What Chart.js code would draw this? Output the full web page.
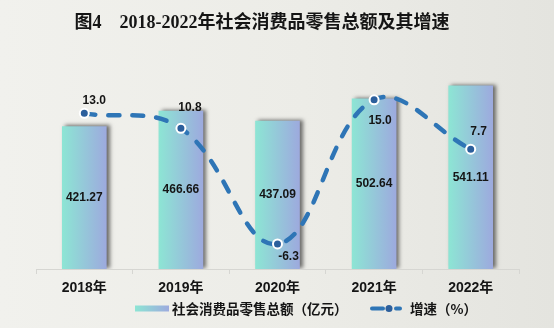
<!DOCTYPE html>
<html>
<head>
<meta charset="utf-8">
<script src="https://cdn.jsdelivr.net/npm/chart.js@4.4.1/dist/chart.umd.min.js"></script>
<style>
  html, body { margin: 0; padding: 0; }
  body {
    width: 554px; height: 328px; overflow: hidden;
    background: linear-gradient(90deg, #f1f1ed 0%, #ececE7 55%, #e4e4df 100%);
  }
  #wrap { position: relative; width: 554px; height: 328px; }
</style>
</head>
<body>
<div id="wrap"><canvas id="c" width="554" height="328"></canvas></div>
<script>
// Retail sales of consumer goods, 2018-2022
const years = ['2018年', '2019年', '2020年', '2021年', '2022年'];
const retailTotal = [421.27, 466.66, 437.09, 502.64, 541.11];   // 亿元
const growthRate = [13.0, 10.8, -6.3, 15.0, 7.7];               // %
const barLegend = '社会消费品零售总额（亿元）';
const lineLegend = '增速（%）';
const titleText = '图4　2018-2022年社会消费品零售总额及其增速';

const BAR_W = 44;
const LINE_BLUE = '#2e75b6';
const POINT_BLUE = '#2c5f9c';
const TEXT = '#151515';

function barGradient(c2d, x0, x1) {
  const g = c2d.createLinearGradient(x0, 0, x1, 0);
  g.addColorStop(0, '#8de5d4');
  g.addColorStop(1, '#9daade');
  return g;
}

// Where each growth label sits relative to its point
const rateLabelOffset = [[10, -13], [9, -21], [11, 13], [6, 21], [8, -18]];

const decorations = {
  id: 'decorations',
  beforeDatasetDraw(chart, args) {
    if (args.meta.type === 'bar') {
      const c = chart.ctx;
      c.save();
      c.shadowColor = 'rgba(0,0,0,0.55)';
      c.shadowBlur = 4;
      c.shadowOffsetX = 3;
      c.shadowOffsetY = -1;
    }
  },
  afterDatasetDraw(chart, args) {
    if (args.meta.type === 'bar') chart.ctx.restore();
  },
  afterDatasetsDraw(chart) {
    const c = chart.ctx;
    c.save();
    c.fillStyle = TEXT;
    c.font = 'bold 12px "Liberation Sans", "Noto Sans CJK SC", sans-serif';
    c.textAlign = 'center';
    c.textBaseline = 'middle';
    // values inside the bars
    const barMeta = chart.getDatasetMeta(0);
    barMeta.data.forEach((el, i) => {
      const yMid = (el.y + el.base) / 2;
      c.fillText(retailTotal[i].toFixed(2), el.x, yMid);
    });
    // growth rate labels
    const lineMeta = chart.getDatasetMeta(1);
    lineMeta.data.forEach((el, i) => {
      const [dx, dy] = rateLabelOffset[i];
      c.fillText(growthRate[i].toFixed(1), el.x + dx, el.y + dy);
    });
    c.restore();
  },
  afterDraw(chart) {
    const c = chart.ctx;
    c.save();
    // title
    c.fillStyle = TEXT;
    c.textAlign = 'center';
    c.textBaseline = 'middle';
    c.font = 'bold 18px "Liberation Serif", "Noto Sans CJK SC", serif';
    c.fillText(titleText, 262, 23);

    // legend
    const ly = 308.5;
    c.fillStyle = barGradient(c, 135, 169);
    c.fillRect(135, ly - 3, 34, 6);
    c.fillStyle = TEXT;
    c.textAlign = 'left';
    c.font = 'bold 13.5px "Noto Sans CJK SC", sans-serif';
    c.fillText(barLegend, 172, ly);

    c.strokeStyle = LINE_BLUE;
    c.lineWidth = 4;
    c.lineCap = 'round';
    c.beginPath();
    c.moveTo(372, ly); c.lineTo(383, ly);
    c.moveTo(396, ly); c.lineTo(400, ly);
    c.stroke();
    c.fillStyle = POINT_BLUE;
    c.beginPath();
    c.arc(389, ly, 3.5, 0, Math.PI * 2);
    c.fill();
    c.fillStyle = TEXT;
    c.fillText(lineLegend, 410, ly);
    c.restore();
  }
};

new Chart(document.getElementById('c'), {
  data: {
    labels: years,
    datasets: [
      {
        type: 'bar',
        label: barLegend,
        data: retailTotal,
        yAxisID: 'y',
        order: 2,
        barThickness: BAR_W,
        backgroundColor: (ctx) => {
          const sx = ctx.chart.scales.x;
          const x = sx ? sx.getPixelForValue(ctx.dataIndex) : NaN;
          if (!Number.isFinite(x)) return '#95c8da';
          return barGradient(ctx.chart.ctx, x - BAR_W / 2, x + BAR_W / 2);
        },
        borderWidth: 0
      },
      {
        type: 'line',
        label: lineLegend,
        data: growthRate,
        yAxisID: 'y2',
        order: 1,
        borderColor: LINE_BLUE,
        borderWidth: 4.5,
        borderDash: [11, 13],
        borderCapStyle: 'round',
        tension: 0.4,
        pointRadius: 4.5,
        pointBackgroundColor: POINT_BLUE,
        pointBorderColor: '#ffffff',
        pointBorderWidth: 2,
        fill: false
      }
    ]
  },
  options: {
    responsive: false,
    animation: false,
    events: [],
    layout: { padding: { left: 36, right: 35, top: 66, bottom: 0 } },
    plugins: {
      legend: { display: false },
      title: { display: false },
      tooltip: { enabled: false }
    },
    scales: {
      x: {
        offset: true,
        border: { display: true, color: '#d6d6d2', width: 1 },
        grid: { offset: true, drawOnChartArea: false, drawTicks: true, tickLength: 5, color: '#d6d6d2' },
        ticks: {
          color: TEXT,
          padding: 6,
          font: { family: '"Liberation Sans", "Noto Sans CJK SC", sans-serif', size: 14, weight: 'bold' }
        },
        afterFit(scale) { scale.height = 59; }
      },
      y: { display: false, min: 0, max: 600 },
      y2: { display: false, position: 'right', min: -10, max: 20 }
    }
  },
  plugins: [decorations]
});
</script>
</body>
</html>
